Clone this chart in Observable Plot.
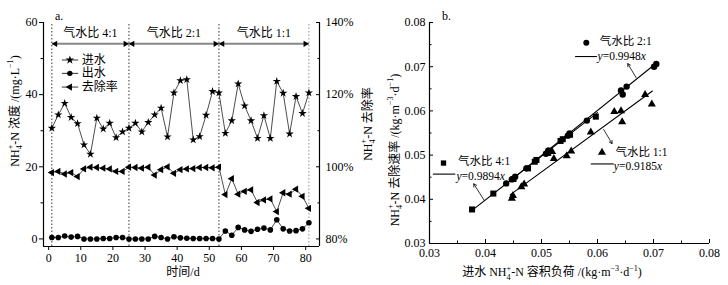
<!DOCTYPE html>
<html><head><meta charset="utf-8">
<script src="https://cdn.jsdelivr.net/npm/d3@7"></script>
<script src="https://cdn.jsdelivr.net/npm/@observablehq/plot@0.6"></script>
<style>
body{margin:0;background:#fff;}
#wrap{display:flex;width:728px;height:285px;overflow:hidden;}
</style></head><body><div id="wrap"></div>
<script>
const FONT = '"Liberation Serif","Noto Sans CJK SC",serif';

// ---------- left chart data ----------
const days = [1,3,5,7,9,11,13,15,17,19,21,23,25,27,29,31,33,35,37,39,41,43,45,47,49,51,53,55,57,59,61,63,65,67,69,71,73,75,77,79,81];
const influent = [30.7,34.4,37.6,33.7,32.0,26.1,23.5,33.5,30.5,32.1,28.1,29.7,30.7,
  32.1,29.7,32.3,34.4,36.3,28.3,40.5,43.9,44.2,27.5,28.4,34.3,40.9,40.5,
  29.3,32.8,43.0,36.9,32.8,27.9,34.2,27.9,43.7,40.4,29.1,39.5,34.8,40.5];
const effluent = [0.4,0.4,0.8,0.5,0.7,0,0,0,0.1,0.1,0.4,0.4,0,
  0,0,0,0.7,0.4,0,0.6,0.3,0.2,0.1,0.1,0.1,0.1,0,
  2.2,1.0,3.2,2.5,2.1,2.7,3.0,2.5,5.3,2.8,2.2,2.3,2.8,4.5];
const removalPct = [98.4,98.7,98.0,98.4,97.3,99.4,99.9,99.8,99.6,99.4,98.7,98.7,99.9,
  99.8,99.6,99.9,97.7,99.2,100.0,98.2,99.2,99.4,99.5,99.8,99.8,99.7,99.9,
  92.3,96.7,92.4,93.2,93.6,90.1,90.8,91.1,87.6,92.8,92.4,93.8,91.8,88.5];
const phaseBounds = [1, 25, 53, 81];
const phaseNames = ["气水比 4:1", "气水比 2:1", "气水比 1:1"];
const leftTicksX = [0,10,20,30,40,50,60,70,80];
const leftTicksY = [0,20,40,60];
const leftMinorY = [10,30,50];
const rightTickPct = [80,100,120,140];
const legendNames = ["进水","出水","去除率"];
const legendSymbols = ["star","circle","triangle"];
const legendY = [49.6, 45.9, 42.1];

// ---------- right chart data ----------
const sq_x = [0.0376,0.0414,0.0450,0.0476,0.0488,0.0491,0.0512,0.0515,0.0534,0.0538,0.0551,0.0597];
const sq_y = [0.0377,0.0413,0.0446,0.0470,0.0485,0.0489,0.0505,0.0510,0.0532,0.0536,0.0546,0.0587];
const ci_x = [0.0437,0.0447,0.0453,0.0473,0.0508,0.0512,0.0547,0.0550,0.0581,0.0642,0.0645,0.0652,0.0701,0.0705];
const ci_y = [0.0436,0.0445,0.0451,0.0470,0.0503,0.0510,0.0544,0.0549,0.0578,0.0646,0.0637,0.0655,0.0700,0.0706];
const tr_x = [0.0447,0.0449,0.0464,0.0469,0.0519,0.0522,0.0545,0.0553,0.0588,0.0630,0.0642,0.0644,0.0685,0.0697];
const tr_y = [0.0402,0.0408,0.0428,0.0434,0.0508,0.0492,0.0498,0.0509,0.0552,0.0598,0.0600,0.0575,0.0637,0.0615];
const fit41 = {x:[0.0376,0.0600], y:[0.0375,0.0596]};
const fit21 = {x:[0.0437,0.0706], y:[0.0435,0.0709]};
const fit11 = {x:[0.0444,0.0698], y:[0.0410,0.0645]};
const seriesNames = ["气水比 4:1","气水比 2:1","气水比 1:1"];
const equations = ["0.9894","0.9948","0.9185"];
const rTicks = [0.03,0.04,0.05,0.06,0.07,0.08];
const rMinor = [0.035,0.045,0.055,0.065,0.075];

// ---------- helpers ----------
function rich(svg, x, y, rot, anchor, fs, segs) {
  const t = d3.select(svg).append("text")
    .attr("transform", `translate(${x},${y}) rotate(${rot})`)
    .attr("text-anchor", anchor).attr("font-family", FONT)
    .attr("font-size", fs).attr("fill", "#000");
  let cur = 0;
  const small = fs * 0.68;
  for (const [s, k] of segs) {
    let off = 0, dx = 0, size = fs, style = null;
    if (k === "sub") { off = fs * 0.3; size = small; }
    else if (k === "sup") { off = -fs * 0.42; size = small; }
    else if (k === "stack") { off = -fs * 0.42; size = small; dx = -small * 0.5; }
    else if (k === "i") style = "italic";
    const sp = t.append("tspan").attr("dy", off - cur).attr("font-size", size).text(s);
    if (dx) sp.attr("dx", dx);
    if (style) sp.attr("font-style", style);
    cur = off;
  }
  return t;
}
const NH4 = [["NH",""],["4","sub"],["+","stack"]];

// ---------- left plot ----------
const rows = days.map((d, i) => ({day: d, inf: influent[i], eff: effluent[i], rem: removalPct[i] - 80}));
const phases = phaseNames.map((n, i) => ({a: phaseBounds[i], b: phaseBounds[i + 1], name: n}));
const legRows = legendNames.map((n, i) => ({name: n, sym: legendSymbols[i], y: legendY[i]}));
const XMIN = -1.6, XMAX = 84.3, YMIN = -2.1, YMAX = 60;

const left = Plot.plot({
  width: 385, height: 285,
  marginLeft: 43, marginRight: 66, marginTop: 22, marginBottom: 39,
  x: {domain: [XMIN, XMAX]},
  y: {domain: [YMIN, YMAX]},
  style: {fontFamily: FONT, fontSize: "12px", color: "#000", background: "#fff"},
  marks: [
    Plot.axisX({ticks: leftTicksX, tickSize: 4, tickPadding: 3, label: null}),
    Plot.axisY({anchor: "left", ticks: leftTicksY, tickSize: 4, tickPadding: 2, label: null}),
    Plot.axisY({anchor: "left", ticks: leftMinorY, tickSize: 2.5, tickFormat: () => "", label: null}),
    Plot.axisY({anchor: "right", ticks: leftTicksY, tickSize: -4, tickPadding: 10, label: null,
      tickFormat: (d, i) => rightTickPct[i] + "%"}),
    Plot.axisY({anchor: "right", ticks: leftMinorY, tickSize: -2.5, tickFormat: () => "", label: null}),
    Plot.ruleX([XMIN, XMAX], {stroke: "#000", strokeWidth: 1.2}),
    Plot.ruleY([YMIN], {stroke: "#000", strokeWidth: 1.2}),
    Plot.ruleX(phaseBounds, {y1: YMIN, y2: YMAX, stroke: (d, i) => i === 3 ? "#777" : "#000",
      strokeWidth: 0.8, strokeDasharray: "1.5,2"}),
    // phase arrows
    Plot.link(phases, {x1: "a", x2: "b", y1: 54.1, y2: 54.1, stroke: "#888", strokeWidth: 2}),
    Plot.dot(phases, {x: d => d.a + 1.1, y: 54.1, symbol: "triangle", rotate: -90, r: 2.3, fill: "#000"}),
    Plot.dot(phases, {x: d => d.b - 1.1, y: 54.1, symbol: "triangle", rotate: 90, r: 2.3, fill: "#000"}),
    Plot.text(phases, {x: d => (d.a + d.b) / 2, y: 57.0, text: "name", fontSize: 12, fill: "#000"}),
    // series
    Plot.line(rows, {x: "day", y: "inf", stroke: "#000", strokeWidth: 0.7}),
    Plot.dot(rows, {x: "day", y: "inf", symbol: "star", r: 2.6, fill: "#000"}),
    Plot.line(rows, {x: "day", y: "eff", stroke: "#000", strokeWidth: 0.7}),
    Plot.dot(rows, {x: "day", y: "eff", symbol: "circle", r: 2.8, fill: "#000"}),
    Plot.line(rows, {x: "day", y: "rem", stroke: "#000", strokeWidth: 0.7}),
    Plot.dot(rows, {x: "day", y: "rem", symbol: "triangle", rotate: -90, r: 2.7, fill: "#000"}),
    // legend
    Plot.link(legRows, {x1: 4.1, x2: 9.2, y1: "y", y2: "y", stroke: "#000", strokeWidth: 0.8}),
    Plot.dot(legRows, {x: 6.6, y: "y", symbol: "sym", r: 2.7, fill: "#000",
      rotate: d => d.sym === "triangle" ? -90 : 0}),
    Plot.text(legRows, {x: 10.3, y: "y", text: "name", textAnchor: "start", fontSize: 12, fill: "#000"})
  ]
});
d3.select(left).selectAll("[aria-label='symbol']").remove();
document.getElementById("wrap").append(left);

rich(left, 15, 111, -90, "middle", 12, [...NH4, ["-N 浓度 /(mg·L",""], ["−1","sup"], [")",""]])
  .attr("dominant-baseline", "central");
rich(left, 368, 124, -90, "middle", 12, [...NH4, ["-N 去除率",""]])
  .attr("dominant-baseline", "central");
rich(left, 183, 276, 0, "middle", 12, [["时间/d",""]]);
rich(left, 55, 20, 0, "start", 12, [["a.",""]]);

// ---------- right plot ----------
const mk = (xs, ys) => xs.map((x, i) => ({x, y: ys[i]}));
const sq = mk(sq_x, sq_y), ci = mk(ci_x, ci_y), tr = mk(tr_x, tr_y);
const fits = [fit41, fit21, fit11].map(f => mk(f.x, f.y));
const ann = [
  {sym: "square", mx: 0.0325, my: 0.0482, tx: 0.0351, ty: 0.0485, lx1: 0.0306, lx2: 0.0346, ly: 0.0457, ex: 0.0349, ey: 0.0452,
   ax1: 0.0398, ay1: 0.0397, ax2: 0.0379, ay2: 0.0435},
  {sym: "circle", mx: 0.0580, my: 0.0754, tx: 0.0604, ty: 0.0757, lx1: 0.0560, lx2: 0.0599, ly: 0.0723, ex: 0.0601, ey: 0.0724,
   ax1: 0.0669, ay1: 0.0675, ax2: 0.0654, ay2: 0.0707},
  {sym: "triangle", mx: 0.0608, my: 0.0506, tx: 0.0632, ty: 0.0506, lx1: 0.0588, lx2: 0.0629, ly: 0.0480, ex: 0.0630, ey: 0.0474,
   ax1: 0.0611, ay1: 0.0558, ax2: 0.0626, ay2: 0.0526}
].map((d, i) => ({...d, name: seriesNames[i]}));

const right = Plot.plot({
  width: 343, height: 285,
  marginLeft: 44, marginRight: 19, marginTop: 22, marginBottom: 42,
  x: {domain: [0.03, 0.08]},
  y: {domain: [0.03, 0.08]},
  style: {fontFamily: FONT, fontSize: "12px", color: "#000", background: "#fff"},
  marks: [
    Plot.axisX({ticks: rTicks, tickSize: -4, tickPadding: 9, tickFormat: d3.format(".2f"), label: null}),
    Plot.axisX({ticks: rMinor, tickSize: -2.5, tickFormat: () => "", label: null}),
    Plot.axisY({ticks: rTicks, tickSize: -4, tickPadding: 8, tickFormat: d3.format(".2f"), label: null}),
    Plot.axisY({ticks: rMinor, tickSize: -2.5, tickFormat: () => "", label: null}),
    Plot.ruleX([0.03], {stroke: "#000", strokeWidth: 1.2}),
    Plot.ruleY([0.03], {stroke: "#000", strokeWidth: 1.2}),
    ...fits.map(f => Plot.line(f, {x: "x", y: "y", stroke: "#000", strokeWidth: 1.1})),
    Plot.dot(sq, {x: "x", y: "y", symbol: "square", r: 3.4, fill: "#000"}),
    Plot.dot(ci, {x: "x", y: "y", symbol: "circle", r: 3.2, fill: "#000"}),
    Plot.dot(tr, {x: "x", y: "y", symbol: "triangle", r: 3.0, fill: "#000"}),
    // annotations
    Plot.dot(ann, {x: "mx", y: "my", symbol: "sym", r: 3.0, fill: "#000"}),
    Plot.text(ann, {x: "tx", y: "ty", text: "name", textAnchor: "start", fontSize: 11.5, fill: "#000"}),
    Plot.link(ann, {x1: "lx1", x2: "lx2", y1: "ly", y2: "ly", stroke: "#000", strokeWidth: 1.1}),
    Plot.arrow(ann, {x1: "ax1", y1: "ay1", x2: "ax2", y2: "ay2", stroke: "#000", strokeWidth: 0.8, headLength: 6})
  ]
});
d3.select(right).selectAll("[aria-label='symbol']").remove();
document.getElementById("wrap").append(right);

const X = right.scale("x"), Y = right.scale("y");
ann.forEach((d, i) => {
  rich(right, X.apply(d.ex), Y.apply(d.ey) + 4, 0, "start", 11.5,
    [["y","i"],["=" + equations[i],""],["x","i"]]);
});
rich(right, 10, 150, -90, "middle", 12, [...NH4, ["-N 去除速率 /(kg·m",""], ["−3","sup"], ["·d",""], ["−1","sup"], [")",""]])
  .attr("dominant-baseline", "central");
rich(right, 167, 276, 0, "middle", 12, [["进水 ",""], ...NH4, ["-N 容积负荷 /(kg·m",""], ["−3","sup"], ["·d",""], ["−1","sup"], [")",""]]);
rich(right, 57, 20, 0, "start", 12, [["b.",""]]);
</script>
</body></html>
